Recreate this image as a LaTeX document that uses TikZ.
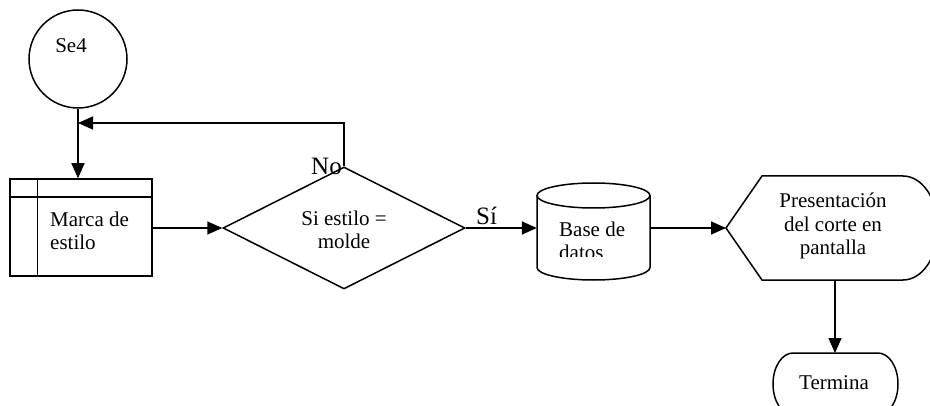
\documentclass[tikz,border=0pt]{standalone}
\usepackage{fontspec}
\setmainfont{Liberation Serif}
\usetikzlibrary{arrows.meta,shapes.geometric,calc}
\begin{document}
\begin{tikzpicture}[x=1pt,y=1pt,
  line/.style={line width=1.5pt},
  arr/.style={line, -{Triangle[length=15pt,width=13pt]}},
  txt/.style={font=\fontsize{21}{23.5}\selectfont, inner sep=0pt, align=center},
  lbl/.style={font=\fontsize{25}{28}\selectfont, inner sep=0pt}]
\useasboundingbox (0,0) rectangle (930,405);
% start circle
\node[circle, draw, line, minimum size=98pt, inner sep=0pt] (se4) at (78,346) {};
\node[txt] (se4t) at (71,359) {Se4};
% internal storage box
\node[draw, line, minimum width=142pt, minimum height=97pt, inner sep=0pt] (marca) at (81,177.5) {};
\draw[line] ($(marca.north west)+(0,-19)$) -- ($(marca.north east)+(0,-19)$);
\draw[line] ($(marca.north west)+(28,0)$) -- ($(marca.south west)+(28,0)$);
\node[txt, align=left, anchor=west] (marcat) at (50,174) {Marca de\\estilo};
% decision
\node[diamond, draw, line, minimum width=242pt, minimum height=122pt, inner sep=0pt] (dec) at (344,177) {};
\node[txt] (dect) at (344,175) {Si estilo =\\molde};
% database cylinder
\node[minimum width=113pt, minimum height=97pt, inner sep=0pt] (db) at (593.5,173.5) {};
\draw[line] (537,209.5) -- (537,137.5) arc[start angle=180,end angle=360,x radius=56.5,y radius=12.5] -- (650,209.5);
\draw[line] (593.5,209.5) ellipse[x radius=56.5,y radius=12.5];
\begin{scope}
\clip (530,148) rectangle (660,230);
\node[txt, align=left, anchor=west] (dbt) at (559,164) {Base de\\datos};
\end{scope}
% display
\coordinate (presL) at (726,177);
\coordinate (presB) at (835,125);
\draw[line] (presL) -- (762,229) -- (903,229) arc[start angle=90,end angle=-90,x radius=35,y radius=52] -- (762,125) -- cycle;
\node[txt] (prest) at (833,179) {Presentación\\del corte en\\pantalla};
% terminator
\coordinate (termT) at (835,52);
\draw[line] (878,52) arc[start angle=90,end angle=-90,x radius=20,y radius=31] -- (793,-10) arc[start angle=270,end angle=90,x radius=20,y radius=31] -- cycle;
\node[txt] (termt) at (834,22) {Termina};
% connectors
\coordinate (fbc) at (dec.north |- 0,282);
\draw[arr] (dec.north) -- (fbc) -- (se4.south |- fbc);
\draw[arr] (se4.south) -- (se4.south |- marca.north);
\draw[arr] (marca.east |- dec.west) -- (dec.west);
\draw[arr] (dec.east) -- (db.west |- dec.east);
\draw[arr] (db.east |- presL) -- (presL);
\draw[arr] (presB) -- (termT);
% labels
\node[lbl, anchor=base east] (no) at (342,230) {No};
\node[lbl, anchor=base west] (si) at (476,180) {Sí};
\end{tikzpicture}
\end{document}
